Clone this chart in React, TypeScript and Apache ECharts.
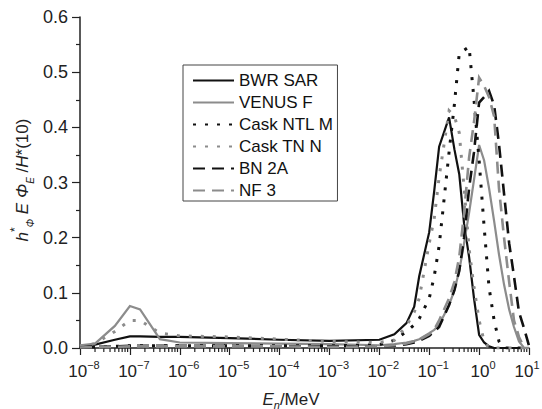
import React, { useEffect, useRef } from 'react';
import * as echarts from 'echarts';

const FONT = '"Liberation Sans", Arial, Helvetica, sans-serif';

// Neutron energy grid (MeV)
const energies = [
  1e-8, 2e-8, 5e-8, 1e-7, 1.6e-7, 4e-7, 1e-6, 1e-5, 1e-4, 1e-3,
  1e-2, 0.02, 0.035, 0.05, 0.063, 0.1, 0.126, 0.158,
  0.25, 0.32, 0.4, 0.5, 0.63, 0.79, 1.0, 1.26, 1.58, 2.0, 2.5, 3.16, 4.0, 5.0, 6.3, 8.0, 10,
];

const bwrSar = [
  0.002, 0.006, 0.015, 0.021, 0.021, 0.02, 0.02, 0.018, 0.015, 0.013,
  0.015, 0.025, 0.045, 0.075, 0.13, 0.21, 0.285, 0.365,
  0.418, 0.36, 0.315, 0.225, 0.165, 0.09, 0.024, 0.01, 0.003, 0, 0, 0, 0, 0, 0, 0, 0,
];
const venusF = [
  0.005, 0.008, 0.04, 0.076, 0.07, 0.016, 0.01, 0.009, 0.008, 0.007,
  0.005, 0.007, 0.01, 0.013, 0.016, 0.027, 0.033, 0.042,
  0.078, 0.105, 0.14, 0.19, 0.245, 0.305, 0.368, 0.34, 0.29, 0.23, 0.17, 0.115, 0.07, 0.038, 0.012, 0, 0,
];
const caskNtlM = [
  0.001, 0.002, 0.003, 0.004, 0.004, 0.004, 0.004, 0.004, 0.004, 0.004,
  0.006, 0.014, 0.03, 0.042, 0.053, 0.09, 0.13, 0.185,
  0.355, 0.442, 0.534, 0.54, 0.546, 0.45, 0.34, 0.22, 0.11, 0.05, 0.012, 0, 0, 0, 0, 0, 0,
];
const caskTnN = [
  0.003, 0.008, 0.03, 0.05, 0.05, 0.027, 0.022, 0.02, 0.016, 0.012,
  0.01, 0.014, 0.04, 0.065, 0.09, 0.19, 0.235, 0.31,
  0.43, 0.42, 0.39, 0.29, 0.18, 0.11, 0.05, 0.012, 0, 0, 0, 0, 0, 0, 0, 0, 0,
];
const bn2A = [
  0.001, 0.002, 0.003, 0.004, 0.004, 0.004, 0.004, 0.004, 0.003, 0.003,
  0.003, 0.004, 0.007, 0.01, 0.013, 0.022, 0.03, 0.038,
  0.078, 0.105, 0.14, 0.2, 0.29, 0.355, 0.445, 0.455, 0.466, 0.44, 0.37, 0.28, 0.19, 0.13, 0.065, 0.035, 0.004,
];
const nf3 = [
  0.001, 0.002, 0.002, 0.003, 0.003, 0.003, 0.003, 0.003, 0.003, 0.002,
  0.003, 0.005, 0.008, 0.012, 0.015, 0.025, 0.034, 0.05,
  0.09, 0.12, 0.165, 0.245, 0.345, 0.41, 0.49, 0.475, 0.455, 0.42, 0.29, 0.2, 0.12, 0.05, 0.02, 0, 0,
];

const seriesNames = ['BWR SAR', 'VENUS F', 'Cask NTL M', 'Cask TN N', 'BN 2A', 'NF 3'];

// minor tick positions of the log axis (2..9 × 10^n)
const minorDecades = [-8, -7, -6, -5, -4, -3, -2, -1, 0];
const minorMultipliers = [2, 3, 4, 5, 6, 7, 8, 9];

const BLACK = '#111111';
const GRAY = '#8c8c8c';
const DOT: number[] = [3, 9];
const DASH: number[] = [12, 7];

export default function App() {
  const ref = useRef<HTMLDivElement>(null);
  useEffect(() => {
    const chart = echarts.init(ref.current as HTMLDivElement, null, { renderer: 'svg' });

    const mk = (name: string, values: number[], color: string, type: any, width: number) => ({
      name,
      type: 'line',
      data: energies.map((e, i) => [e, values[i]]),
      symbol: 'none',
      showSymbol: false,
      smooth: false,
      lineStyle: { color, type, width, cap: 'butt', join: 'miter' },
      itemStyle: { color },
      emphasis: { disabled: true },
    });

    const minorTicks: number[][] = [];
    minorDecades.forEach((n) => {
      minorMultipliers.forEach((k) => {
        minorTicks.push([Number((k * Math.pow(10, n)).toPrecision(3)), 0]);
      });
    });

    const richBase = { fontFamily: FONT, color: '#222' };

    chart.setOption({
      animation: false,
      backgroundColor: '#ffffff',
      textStyle: { fontFamily: FONT },
      grid: { left: 80, right: 13, top: 17, bottom: 61, containLabel: false, outerBoundsMode: 'none' },
      legend: {
        data: seriesNames,
        orient: 'vertical',
        left: 183,
        top: 65,
        padding: [7, 4, 2, 9],
        itemWidth: 41,
        itemHeight: 14,
        itemGap: 5,
        borderColor: '#444',
        borderWidth: 1,
        backgroundColor: '#ffffff',
        itemStyle: { opacity: 0 },
        textStyle: { fontSize: 17, color: '#111', fontFamily: FONT, lineHeight: 17 },
      },
      xAxis: {
        type: 'log',
        logBase: 10,
        min: 1e-8,
        max: 10,
        axisLine: { lineStyle: { color: '#222', width: 1.5 } },
        axisTick: { show: true, inside: false, length: 7, lineStyle: { color: '#222', width: 1.2 } },
        minorTick: { show: false },
        splitLine: { show: false },
        axisLabel: {
          margin: 11,
          showMinLabel: true,
          showMaxLabel: true,
          formatter: (v: number) => {
            const n = Math.round(Math.log10(v));
            if (n >= 1) return `{bl|10}{sl|${n}}`;
            return `{b|10}{s|${n < 0 ? '\u2212' + Math.abs(n) : n}}`;
          },
          rich: {
            b: { ...richBase, fontSize: 17, lineHeight: 24, padding: [0, 0, 0, 8] },
            s: { ...richBase, fontSize: 11, verticalAlign: 'top' },
            bl: { ...richBase, fontSize: 17, lineHeight: 24 },
            sl: { ...richBase, fontSize: 11, verticalAlign: 'top', padding: [0, 4, 0, 0] },
          },
        },
      },
      yAxis: {
        type: 'value',
        min: 0,
        max: 0.6,
        interval: 0.1,
        axisLine: { show: true, lineStyle: { color: '#222', width: 1.5 } },
        axisTick: { show: true, inside: false, length: 8, lineStyle: { color: '#222', width: 1.2 } },
        minorTick: { show: true, splitNumber: 2, length: 4, lineStyle: { color: '#222', width: 1.2 } },
        splitLine: { show: false },
        axisLabel: {
          margin: 12,
          fontSize: 18,
          color: '#222',
          fontFamily: FONT,
          formatter: (v: number) => v.toFixed(1),
        },
      },
      graphic: [
        {
          type: 'text',
          x: 22,
          y: 180,
          rotation: Math.PI / 2,
          style: {
            text: '{i|h}{sp|*}{sb|Φ}{n| }{i|E}{n| }{i|Φ}{sb|E}{n| /}{i|H}{n|*(10)}',
            align: 'center',
            verticalAlign: 'middle',
            fill: '#222',
            rich: {
              i: { ...richBase, fontStyle: 'italic', fontSize: 17, lineHeight: 26 },
              n: { ...richBase, fontSize: 17, lineHeight: 26 },
              sp: { ...richBase, fontSize: 12, verticalAlign: 'top' },
              sb: { ...richBase, fontSize: 10, fontStyle: 'italic', verticalAlign: 'bottom' },
            },
          },
        },
        {
          type: 'text',
          x: 291,
          y: 399,
          style: {
            text: '{i|E}{sb|n}{n|/MeV}',
            align: 'center',
            verticalAlign: 'middle',
            fill: '#222',
            rich: {
              i: { ...richBase, fontStyle: 'italic', fontSize: 17, lineHeight: 22 },
              n: { ...richBase, fontSize: 17, lineHeight: 22 },
              sb: { ...richBase, fontSize: 11, fontStyle: 'italic', verticalAlign: 'bottom' },
            },
          },
        },
      ],
      series: [
        mk('BWR SAR', bwrSar, BLACK, 'solid', 2.2),
        mk('VENUS F', venusF, GRAY, 'solid', 2.2),
        mk('Cask NTL M', caskNtlM, BLACK, DOT, 3),
        mk('Cask TN N', caskTnN, GRAY, DOT, 3),
        mk('BN 2A', bn2A, BLACK, DASH, 2.6),
        mk('NF 3', nf3, GRAY, DASH, 2.6),
        {
          type: 'custom',
          name: 'minor ticks',
          silent: true,
          clip: false,
          data: minorTicks,
          encode: { x: 0, y: 1 },
          renderItem: (_params: any, api: any) => {
            const p = api.coord([api.value(0), 0]);
            return {
              type: 'line',
              shape: { x1: p[0], y1: p[1], x2: p[0], y2: p[1] + 4 },
              style: { stroke: '#222', lineWidth: 1.2 },
            };
          },
        },
      ],
    });

    return () => chart.dispose();
  }, []);

  return (
    <div
      ref={ref}
      style={{ position: 'absolute', left: 0, top: 0, width: 542, height: 409, background: '#fff' }}
    />
  );
}
